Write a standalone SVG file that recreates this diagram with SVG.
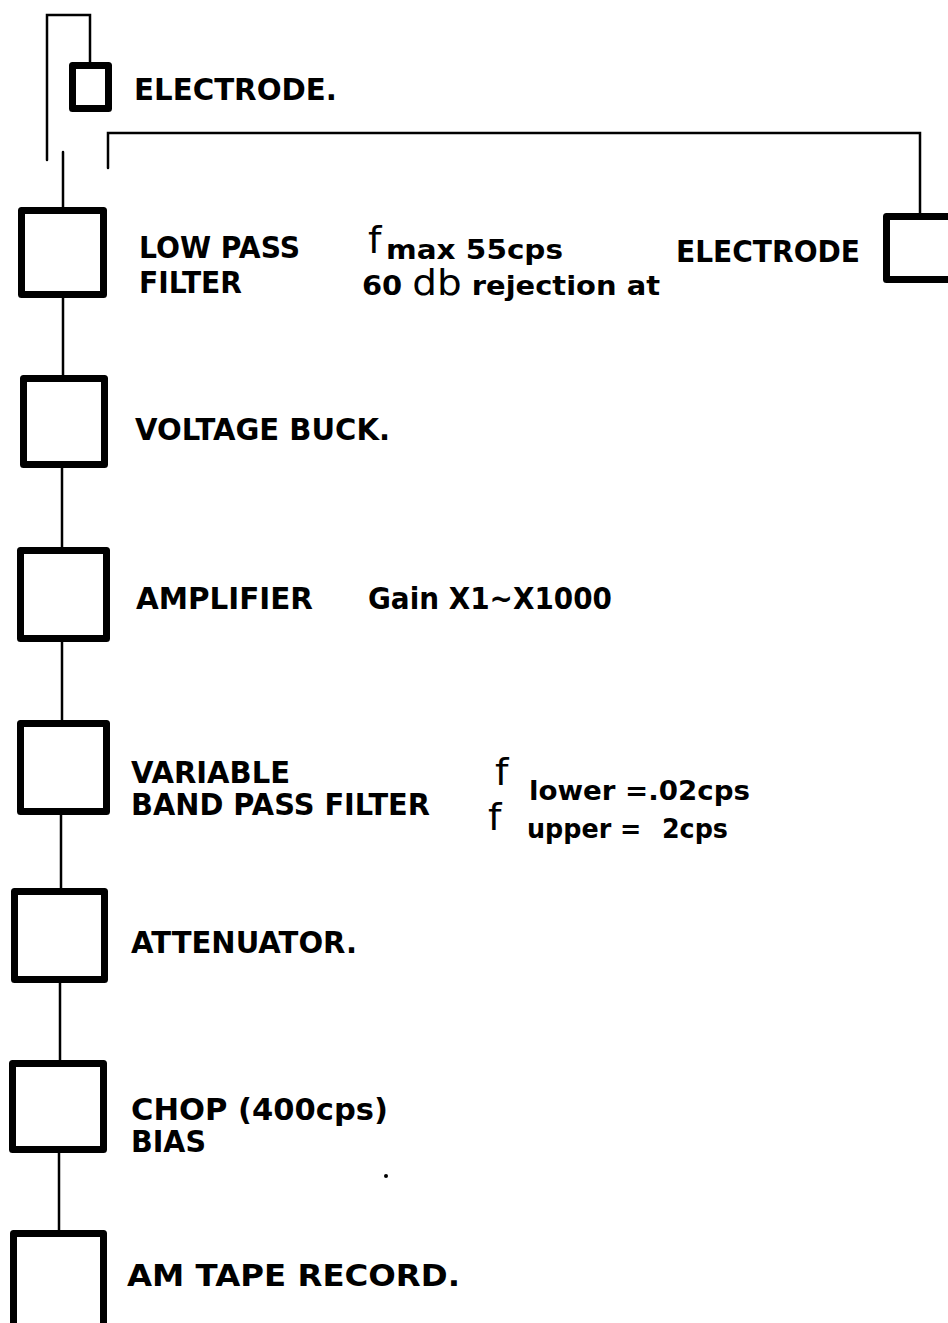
<svg xmlns="http://www.w3.org/2000/svg" width="948" height="1323" viewBox="0 0 948 1323">
<style>
.box{fill:none;stroke:#000;stroke-width:7;stroke-linejoin:round}
.wire{fill:none;stroke:#000;stroke-width:2.5;stroke-linecap:round;stroke-linejoin:miter}
text{font-family:"DejaVu Sans","Liberation Sans",sans-serif;font-weight:bold;fill:#000}
.lbl{font-size:30px}
.sub{font-size:26px}
.f{font-size:38px;font-weight:normal}
</style>
<rect width="948" height="1323" fill="#fff"/>
<g id="connectors">
<path class="wire" d="M47,160 V15 H90 V63"/>
<path class="wire" d="M63,152 V208"/>
<path class="wire" d="M108,168 V133 H920 V214"/>
<path class="wire" d="M63,298 V376"/>
<path class="wire" d="M62,468 V548"/>
<path class="wire" d="M62,642 V721"/>
<path class="wire" d="M61,815 V889"/>
<path class="wire" d="M60,983 V1061"/>
<path class="wire" d="M59,1153 V1231"/>
</g>
<g id="electrode-top">
<rect class="box" x="72.5" y="65.5" width="36" height="43"/>
<text class="lbl" x="134" y="100" textLength="203" lengthAdjust="spacingAndGlyphs">ELECTRODE.</text>
</g>
<g id="electrode-right">
<rect class="box" x="886.5" y="216.5" width="80" height="63"/>
<text class="lbl" x="676" y="262" textLength="184" lengthAdjust="spacingAndGlyphs">ELECTRODE</text>
</g>
<g id="low-pass-filter">
<rect class="box" x="21.5" y="210.5" width="82" height="84"/>
<text class="lbl" x="139" y="258" textLength="161" lengthAdjust="spacingAndGlyphs">LOW PASS</text>
<text class="lbl" x="139" y="293" textLength="103" lengthAdjust="spacingAndGlyphs">FILTER</text>
<text class="f" x="368" y="253">f</text>
<text class="sub" x="386" y="259" textLength="177" lengthAdjust="spacingAndGlyphs">max 55cps</text>
<text class="sub" x="362" y="295" textLength="298" lengthAdjust="spacingAndGlyphs">60 <tspan font-size="35" font-weight="normal">db</tspan> rejection at</text>
</g>
<g id="voltage-buck">
<rect class="box" x="23.5" y="378.5" width="81" height="86"/>
<text class="lbl" x="135" y="440" textLength="255" lengthAdjust="spacingAndGlyphs">VOLTAGE BUCK.</text>
</g>
<g id="amplifier">
<rect class="box" x="20.5" y="550.5" width="86" height="88"/>
<text class="lbl" x="136" y="609" textLength="177" lengthAdjust="spacingAndGlyphs">AMPLIFIER</text>
<text class="lbl" x="368" y="609" textLength="244" lengthAdjust="spacingAndGlyphs">Gain X1~X1000</text>
</g>
<g id="variable-band-pass-filter">
<rect class="box" x="20.5" y="723.5" width="86" height="88"/>
<text class="lbl" x="131" y="783" textLength="159" lengthAdjust="spacingAndGlyphs">VARIABLE</text>
<text class="lbl" x="131" y="815" textLength="299" lengthAdjust="spacingAndGlyphs">BAND PASS FILTER</text>
<text class="f" x="495" y="785">f</text>
<text class="sub" x="529" y="800" textLength="221" lengthAdjust="spacingAndGlyphs">lower =.02cps</text>
<text class="f" x="488" y="830">f</text>
<text class="sub" x="527" y="838" textLength="201" lengthAdjust="spacingAndGlyphs">upper = <tspan dx="12">2cps</tspan></text>
</g>
<g id="attenuator">
<rect class="box" x="14.5" y="891.5" width="90" height="88"/>
<text class="lbl" x="131" y="953" textLength="226" lengthAdjust="spacingAndGlyphs">ATTENUATOR.</text>
</g>
<g id="chop-bias">
<rect class="box" x="12.5" y="1063.5" width="91" height="86"/>
<text class="lbl" x="131" y="1120" textLength="257" lengthAdjust="spacingAndGlyphs">CHOP (400cps)</text>
<text class="lbl" x="131" y="1152" textLength="75" lengthAdjust="spacingAndGlyphs">BIAS</text>
</g>
<g id="am-tape-record">
<rect class="box" x="13.5" y="1233.5" width="90" height="100"/>
<text class="lbl" x="127" y="1286" textLength="333" lengthAdjust="spacingAndGlyphs">AM TAPE RECORD.</text>
</g>
<circle cx="386" cy="1176" r="2" fill="#000"/>
</svg>
